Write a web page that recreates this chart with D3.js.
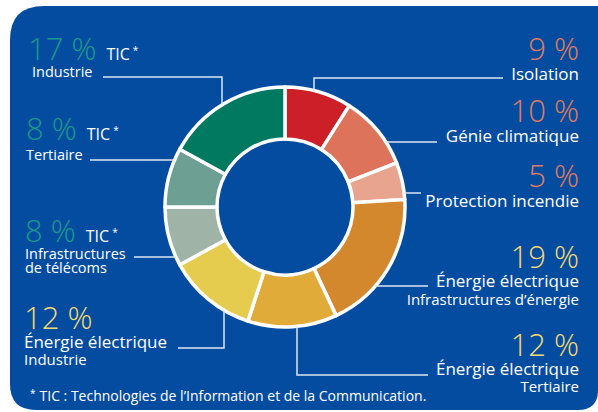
<!DOCTYPE html>
<html>
<head>
<meta charset="utf-8">
<script src="https://cdn.jsdelivr.net/npm/d3@7"></script>
<style>
  body { margin: 0; background: #fff; }
  svg { display: block; font-family: "Open Sans", sans-serif; }
</style>
</head>
<body>
<div id="chart"></div>
<script>
// Data, clockwise from the top
const names = ["Isolation", "Génie climatique", "Protection incendie",
  "Énergie électrique", "Énergie électrique", "Énergie électrique",
  "Infrastructures", "Tertiaire", "Industrie"];
const subNames = ["", "", "", "Infrastructures d’énergie", "Tertiaire", "Industrie",
  "de télécoms", "", ""];
const values = [9, 10, 5, 19, 12, 12, 8, 8, 17];
const isTic = [false, false, false, false, false, false, true, true, true];
const sliceColors = ["#cd1f28", "#dd735b", "#e8a48f", "#d4882e", "#e1ab3a",
  "#e5cb4e", "#9fb4a7", "#6d9f93", "#007961"];
const pctColors = ["#e07b5e", "#e07b5e", "#e07b5e", "#f6d872", "#f6d872",
  "#f6d872", "#1a9a8b", "#1a9a8b", "#1a9a8b"];
const footnote = "TIC : Technologies de l’Information et de la Communication.";

const W = 598, H = 412;
const cx = 285, cy = 207, R = 120, r = 68;

const svg = d3.select("#chart").append("svg")
  .attr("width", W).attr("height", H);

// Blue panel with rounded corners
svg.append("path")
  .attr("d", "M10,40 Q10,6 44,6 L598,6 L598,390 Q598,410 578,410 L36,410 Q10,410 10,384 Z")
  .attr("fill", "#044ca0");

// Donut
const pie = d3.pie().sort(null).value(d => d);
const arc = d3.arc().innerRadius(r).outerRadius(R);
const g = svg.append("g").attr("transform", `translate(${cx},${cy})`);
g.selectAll("path")
  .data(pie(values))
  .join("path")
  .attr("d", arc)
  .attr("fill", (d, i) => sliceColors[i])
  .attr("stroke", "#fff")
  .attr("stroke-width", 3.5)
  .attr("stroke-linejoin", "round");

// Leader line helpers: point on the outer circle for a given x or y
const edgeAtX = (x, side) => [x, cy + side * Math.sqrt(R * R - (x - cx) ** 2)];
const edgeAtY = (y, side) => [cx + side * Math.sqrt(R * R - (y - cy) ** 2), y];

// Label layout: anchor x, pct baseline, name/sub offsets and sizes, leader
const layout = [
  { x: 579, anchor: "end", y: 60, n: 20, fs: 17, leader: [edgeAtX(314, -1), [314, 78], [503, 78]] },
  { x: 579, anchor: "end", y: 122, n: 20, fs: 17, leader: [edgeAtY(142, 1), [437, 142]] },
  { x: 579, anchor: "end", y: 187, n: 20, fs: 17, leader: [edgeAtY(193, 1), [421, 193]] },
  { x: 579, anchor: "end", y: 268, n: 19, s: 37, fs: 17, ss: 15, leader: [edgeAtY(286, 1), [428, 286]] },
  { x: 579, anchor: "end", y: 356, n: 19, s: 36, fs: 17, ss: 15, leader: [edgeAtX(297, 1), [297, 375], [428, 375]] },
  { x: 24, anchor: "start", y: 329, n: 19, s: 36, fs: 17, ss: 15, leader: [edgeAtX(224, 1), [224, 348], [178, 348]] },
  { x: 25, anchor: "start", y: 242, n: 17, s: 31, fs: 14.5, ss: 14.5, leader: [edgeAtY(257, -1), [134, 257]] },
  { x: 26, anchor: "start", y: 140, n: 20, fs: 14.5, leader: [edgeAtY(160, -1), [90, 160]] },
  { x: 32, anchor: "start", y: 60, dx: -4, n: 17, fs: 14.5, leader: [edgeAtX(222, -1), [222, 77], [103, 77]] }
];

const line = d3.line();
svg.append("g").selectAll("path")
  .data(layout)
  .join("path")
  .attr("d", d => line(d.leader))
  .attr("fill", "none")
  .attr("stroke", "#dce6f3")
  .attr("stroke-width", 1.5);

const labels = svg.append("g").selectAll("g")
  .data(values)
  .join("g");

// Percentages (plus "TIC*" after the TIC ones)
labels.append("text")
  .attr("x", (d, i) => layout[i].x + (layout[i].dx || 0))
  .attr("y", (d, i) => layout[i].y)
  .attr("text-anchor", (d, i) => layout[i].anchor)
  .attr("fill", (d, i) => pctColors[i])
  .style("font-size", "31px")
  .style("font-weight", 300)
  .text(d => `${d} %`)
  .each(function(d, i) {
    if (!isTic[i]) return;
    const bb = this.getBBox();
    const t = d3.select(this.parentNode).append("text")
      .attr("x", bb.x + bb.width + 10)
      .attr("y", layout[i].y)
      .attr("fill", "#fff")
      .style("font-size", "16px")
      .text("TIC");
    t.append("tspan")
      .attr("dx", 3).attr("dy", -6)
      .style("font-size", "10px")
      .text("*");
  });

// Names
labels.append("text")
  .attr("x", (d, i) => layout[i].x)
  .attr("y", (d, i) => layout[i].y + layout[i].n)
  .attr("text-anchor", (d, i) => layout[i].anchor)
  .attr("fill", "#fff")
  .style("font-size", (d, i) => layout[i].fs + "px")
  .text((d, i) => names[i]);

// Second lines
labels.each(function(d, i) {
  if (!subNames[i]) return;
  d3.select(this).append("text")
    .attr("x", layout[i].x)
    .attr("y", layout[i].y + layout[i].s)
    .attr("text-anchor", layout[i].anchor)
    .attr("fill", "#fff")
    .style("font-size", layout[i].ss + "px")
    .text(subNames[i]);
});

// Footnote
const fn = svg.append("text")
  .attr("x", 30).attr("y", 401)
  .attr("fill", "#fff")
  .style("font-size", "14px");
fn.append("tspan").attr("dy", -4).style("font-size", "10px").text("*");
fn.append("tspan").attr("dy", 4).attr("dx", 4).text(footnote);
</script>
</body>
</html>
